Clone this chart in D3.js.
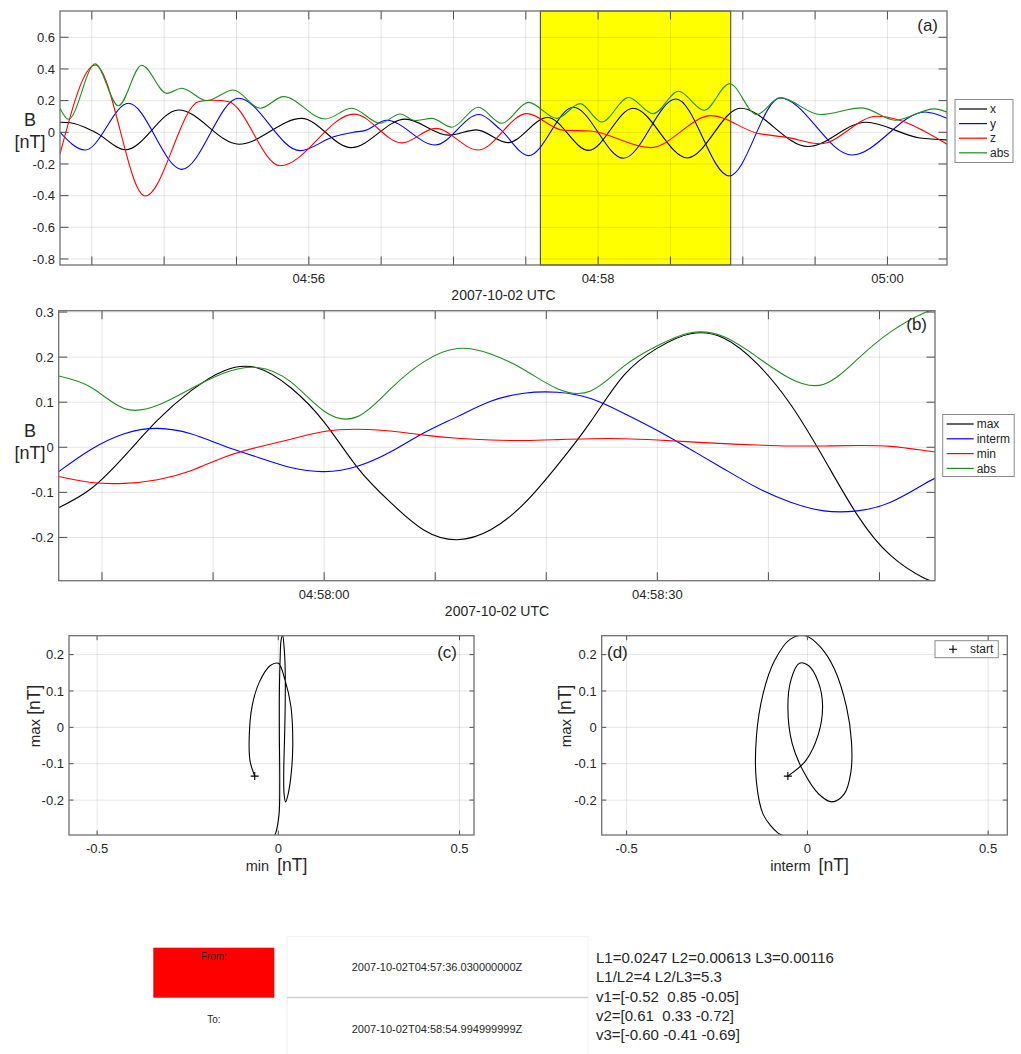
<!DOCTYPE html>
<html>
<head>
<meta charset="utf-8">
<script src="https://cdn.jsdelivr.net/npm/d3@7"></script>
<style>
  body { margin: 0; background: #fff; }
  svg { display: block; font-family: "Liberation Sans", Arial, sans-serif; }
  text { fill: #262626; white-space: pre; }
</style>
</head>
<body>
<svg id="chart" width="1021" height="1054"></svg>
<script>
// ---- panel (a): field components, seconds after 2007-10-02 04:54:00 UTC
// (times picked at turning points of each trace)
const aXTime = [16.8, 21, 31.4, 44, 66, 91, 117, 137.5, 160, 178, 189.5, 202.5, 219, 236, 254.5, 277, 299, 327, 351, 373.5, 384.7];
const aXVal  = [0.063, 0.06, 0.0, -0.11, 0.141, -0.075, 0.088, -0.097, 0.083, -0.018, 0.015, -0.065, 0.093, -0.114, 0.152, -0.162, 0.152, -0.09, 0.063, -0.036, -0.048];

const aYTime = [16.8, 27.2, 45.2, 67.3, 90.8, 116.4, 130, 138.5, 143.5, 152.3, 172.4, 190.6, 199.3, 211.1, 229.7, 250.5, 272.3, 294.4, 315.5, 345.3, 375.6, 384.7];
const aYVal  = [0.0, -0.112, 0.183, -0.234, 0.215, -0.116, -0.03, 0.0, 0.012, 0.076, -0.08, 0.112, 0.02, -0.147, 0.158, -0.164, 0.21, -0.275, 0.217, -0.143, 0.128, 0.088];

const aZTime = [16.8, 31.4, 52.1, 74.5, 80.4, 86.5, 108.1, 138.8, 158.6, 172.6, 190.2, 210.4, 225.5, 236.7, 261.6, 286.9, 306.0, 318.4, 332.1, 355.6, 384.7];
const aZVal  = [-0.137, 0.425, -0.402, 0.195, 0.202, 0.195, -0.211, 0.115, -0.067, 0.025, -0.112, 0.118, 0.013, 0.008, -0.097, 0.105, -0.006, -0.032, -0.072, 0.101, -0.075];

const aAbsTime = [16.8, 20.3, 31.4, 41.0, 50.7, 61.1, 67.3, 77.7, 88.7, 99.8, 109.5, 126.8, 137.8, 149.6, 157.9, 164.1, 171.0, 179.3, 190.3, 200.0, 211.1, 222.9, 232.5, 241.5, 252.6, 262.9, 273.3, 284.0, 294.5, 305.8, 315.5, 332.1, 349.4, 363.2, 379.4, 384.7];
const aAbsVal  = [0.152, 0.082, 0.432, 0.168, 0.423, 0.246, 0.278, 0.2, 0.267, 0.152, 0.225, 0.084, 0.152, 0.057, 0.116, 0.074, 0.088, 0.032, 0.158, 0.057, 0.189, 0.088, 0.181, 0.065, 0.22, 0.118, 0.259, 0.139, 0.307, 0.112, 0.219, 0.112, 0.154, 0.076, 0.148, 0.127];

const aYLim = [-0.838, 0.766];
const aYTicks = [-0.8, -0.6, -0.4, -0.2, 0, 0.2, 0.4, 0.6];

// selected interval (yellow)
const intervalFrom = "2007-10-02T04:57:36.030000000Z";
const intervalTo   = "2007-10-02T04:58:54.994999999Z";

// ---- panel (b): minimum variance frame, seconds after 04:58:00 UTC
const bTime   = [-23.9, -21, -18, -15, -12, -9, -6, -3, 0, 3, 6, 9, 12, 15, 18, 21, 24, 27, 30, 33, 36, 39, 42, 45, 48, 51, 54, 55];
const bMax    = [-0.134, -0.092, -0.020, 0.060, 0.125, 0.170, 0.176, 0.132, 0.056, -0.045, -0.123, -0.184, -0.205, -0.183, -0.125, -0.040, 0.057, 0.160, 0.220, 0.252, 0.242, 0.185, 0.095, -0.025, -0.150, -0.240, -0.290, -0.296];
const bInterm = [-0.054, -0.005, 0.030, 0.042, 0.030, 0.003, -0.022, -0.045, -0.054, -0.042, -0.010, 0.032, 0.068, 0.102, 0.120, 0.122, 0.108, 0.075, 0.037, -0.005, -0.048, -0.090, -0.122, -0.141, -0.141, -0.122, -0.082, -0.069];
const bMin    = [-0.065, -0.078, -0.080, -0.072, -0.052, -0.022, 0.0, 0.018, 0.035, 0.040, 0.036, 0.027, 0.020, 0.016, 0.015, 0.017, 0.019, 0.019, 0.016, 0.012, 0.008, 0.005, 0.003, 0.003, 0.004, 0.002, -0.007, -0.010];
const bAbs    = [0.158, 0.133, 0.086, 0.093, 0.130, 0.165, 0.177, 0.145, 0.080, 0.068, 0.130, 0.190, 0.219, 0.207, 0.172, 0.130, 0.125, 0.180, 0.225, 0.254, 0.245, 0.200, 0.152, 0.140, 0.195, 0.256, 0.298, 0.303];
const bYTicks = [-0.2, -0.1, 0, 0.1, 0.2, 0.3];

// ---- hodograms (c), (d)
const cXLim = [-0.5775, 0.540];
const dXLim = [-0.569, 0.553];
const hXTicks = [-0.5, 0, 0.5];
const hYTicks = [-0.2, -0.1, 0, 0.1, 0.2];

// ---- eigen analysis text
const infoLines = [
  "L1=0.0247 L2=0.00613 L3=0.00116",
  "L1/L2=4 L2/L3=5.3",
  "v1=[-0.52  0.85 -0.05]",
  "v2=[0.61  0.33 -0.72]",
  "v3=[-0.60 -0.41 -0.69]"
];

const GREEN = "#1f8f1f";
const svg = d3.select("#chart");
const baseA = Date.UTC(2007, 9, 2, 4, 54, 0);
const baseB = Date.UTC(2007, 9, 2, 4, 58, 0);
const toDate = (base, s) => new Date(base + s * 1000);
const fmtTick = v => Math.abs(v) < 1e-9 ? "0" : String(+v.toFixed(2));
const parseIso = s => new Date(s.slice(0, 23) + "Z");

function clipFor(id, xs, ys) {
  svg.append("clipPath").attr("id", id).append("rect")
    .attr("x", xs.range()[0]).attr("y", ys.range()[1])
    .attr("width", xs.range()[1] - xs.range()[0])
    .attr("height", ys.range()[0] - ys.range()[1]);
  return "url(#" + id + ")";
}

function drawGrid(xs, ys, xTicks, yTicks) {
  const [xl, xr] = xs.range(), [yb, yt] = ys.range();
  const g = svg.append("g").attr("stroke", "#000").attr("stroke-opacity", 0.1).attr("stroke-width", 1);
  g.selectAll(".gx").data(xTicks).join("line")
    .attr("x1", d => xs(d)).attr("x2", d => xs(d)).attr("y1", yt).attr("y2", yb);
  g.selectAll(".gy").data(yTicks).join("line")
    .attr("x1", xl).attr("x2", xr).attr("y1", d => ys(d)).attr("y2", d => ys(d));
}

function drawBox(xs, ys, xTicks, yTicks, xFmt, yFmt, tick) {
  const [xl, xr] = xs.range(), [yb, yt] = ys.range();
  const g = svg.append("g");
  const tk = g.append("g").attr("stroke", "#4d4d4d").attr("stroke-width", 1);
  xTicks.forEach(d => {
    tk.append("line").attr("x1", xs(d)).attr("x2", xs(d)).attr("y1", yb).attr("y2", yb - tick);
    tk.append("line").attr("x1", xs(d)).attr("x2", xs(d)).attr("y1", yt).attr("y2", yt + tick);
  });
  yTicks.forEach(d => {
    tk.append("line").attr("x1", xl).attr("x2", xl + tick).attr("y1", ys(d)).attr("y2", ys(d));
    tk.append("line").attr("x1", xr).attr("x2", xr - tick).attr("y1", ys(d)).attr("y2", ys(d));
  });
  g.append("rect").attr("x", xl).attr("y", yt).attr("width", xr - xl).attr("height", yb - yt)
    .attr("fill", "none").attr("stroke", "#707070").attr("stroke-width", 1.3);
  g.selectAll(".xl").data(xTicks.filter(d => xFmt(d) !== "")).join("text")
    .attr("x", d => xs(d)).attr("y", yb + 18).attr("text-anchor", "middle")
    .attr("font-size", 13).text(d => xFmt(d));
  g.selectAll(".yl").data(yTicks).join("text")
    .attr("x", xl - 5).attr("y", d => ys(d)).attr("dy", "0.35em").attr("text-anchor", "end")
    .attr("font-size", 13).text(d => yFmt(d));
}

function legend(x, y, w, h, rows, rowH, lineW) {
  const g = svg.append("g");
  g.append("rect").attr("x", x).attr("y", y).attr("width", w).attr("height", h)
    .attr("fill", "#fff").attr("stroke", "#8a8a8a").attr("stroke-width", 1);
  rows.forEach((r, i) => {
    const cy = y + 9.5 + i * rowH;
    g.append("line").attr("x1", x + 4).attr("x2", x + 4 + lineW).attr("y1", cy).attr("y2", cy)
      .attr("stroke", r.color).attr("stroke-width", 1.2);
    g.append("text").attr("x", x + lineW + 7).attr("y", cy).attr("dy", "0.35em")
      .attr("font-size", 12).attr("fill", "#000").text(r.name);
  });
}

function unitLabel(x, y1, y2) {
  svg.append("text").attr("x", x).attr("y", y1).attr("text-anchor", "middle").attr("font-size", 18).text("B");
  svg.append("text").attr("x", x).attr("y", y2).attr("text-anchor", "middle").attr("font-size", 18).text("[nT]");
}

// =============== panel (a) ===============
const aSeries = [
  { name: "x",   color: "#000",    t: aXTime,   v: aXVal },
  { name: "y",   color: "#0000ff", t: aYTime,   v: aYVal },
  { name: "z",   color: "#ff0000", t: aZTime,   v: aZVal },
  { name: "abs", color: GREEN,     t: aAbsTime, v: aAbsVal }
];
const aExt = d3.extent(aSeries.flatMap(s => s.t));
const ax = d3.scaleUtc().domain(aExt.map(s => toDate(baseA, s))).range([60, 947]);
const ay = d3.scaleLinear().domain(aYLim).range([265, 11]);
const aXTicks = ax.ticks(d3.utcSecond.every(30));
const aFmt = d => (d.getUTCSeconds() === 0 && d.getUTCMinutes() % 2 === 0) ? d3.utcFormat("%H:%M")(d) : "";

svg.append("rect")
  .attr("x", ax(parseIso(intervalFrom))).attr("y", 11)
  .attr("width", ax(parseIso(intervalTo)) - ax(parseIso(intervalFrom))).attr("height", 254)
  .attr("fill", "#ffff00").attr("stroke", "#3a3a3a").attr("stroke-width", 1);
drawGrid(ax, ay, aXTicks, aYTicks);
const aClip = clipFor("clipA", ax, ay);
const aLine = d3.line().curve(d3.curveMonotoneX);
aSeries.forEach(s => {
  svg.append("path").attr("clip-path", aClip)
    .attr("d", aLine(s.t.map((t, i) => [ax(toDate(baseA, t)), ay(s.v[i])])))
    .attr("fill", "none").attr("stroke", s.color).attr("stroke-width", 1.1);
});
drawBox(ax, ay, aXTicks, aYTicks, aFmt, fmtTick, 8.5);
legend(955, 99.5, 58, 63, aSeries, 14.6, 28);
unitLabel(30, 126, 148);
svg.append("text").attr("x", 503.5).attr("y", 300).attr("text-anchor", "middle").attr("font-size", 14).text("2007-10-02 UTC");
svg.append("text").attr("x", 938).attr("y", 31).attr("text-anchor", "end").attr("font-size", 17).text("(a)");

// =============== panel (b) ===============
const bSeries = [
  { name: "max",    color: "#000",    v: bMax },
  { name: "interm", color: "#0000ff", v: bInterm },
  { name: "min",    color: "#ff0000", v: bMin },
  { name: "abs",    color: GREEN,     v: bAbs }
];
const bx = d3.scaleUtc().domain(d3.extent(bTime).map(s => toDate(baseB, s))).range([58.7, 935]);
const by = d3.scaleLinear().domain([d3.min(bMax), d3.max(bAbs)]).range([580.7, 310.7]);
const bXTicks = bx.ticks(d3.utcSecond.every(10));
const bFmt = d => d.getUTCSeconds() % 30 === 0 ? d3.utcFormat("%H:%M:%S")(d) : "";
drawGrid(bx, by, bXTicks, bYTicks);
const bClip = clipFor("clipB", bx, by);
const bLine = d3.line().curve(d3.curveNatural);
bSeries.forEach(s => {
  svg.append("path").attr("clip-path", bClip)
    .attr("d", bLine(bTime.map((t, i) => [bx(toDate(baseB, t)), by(s.v[i])])))
    .attr("fill", "none").attr("stroke", s.color).attr("stroke-width", 1.1);
});
drawBox(bx, by, bXTicks, bYTicks, bFmt, fmtTick, 8.5);
legend(942.7, 414.5, 71.5, 62, bSeries, 14.8, 27);
unitLabel(30, 437, 459);
svg.append("text").attr("x", 497).attr("y", 616).attr("text-anchor", "middle").attr("font-size", 14).text("2007-10-02 UTC");
svg.append("text").attr("x", 927).attr("y", 330).attr("text-anchor", "end").attr("font-size", 17).text("(b)");

// =============== hodograms ===============
function hodogram(id, xLim, xRange, xVals, xName, tag, tagX, tagAnchor, ylabX) {
  const hx = d3.scaleLinear().domain(xLim).range(xRange);
  const hy = d3.scaleLinear().domain(d3.extent(bMax)).range([835, 635.7]);
  drawGrid(hx, hy, hXTicks, hYTicks);
  const pts = xVals.map((v, i) => [hx(v), hy(bMax[i])]);
  svg.append("path").attr("clip-path", clipFor(id, hx, hy))
    .attr("d", d3.line().curve(d3.curveCatmullRom.alpha(0.5))(pts))
    .attr("fill", "none").attr("stroke", "#000").attr("stroke-width", 1.1);
  const [sx, sy] = pts[0];
  svg.append("path").attr("d", `M${sx - 4},${sy}H${sx + 4}M${sx},${sy - 4}V${sy + 4}`)
    .attr("stroke", "#000").attr("stroke-width", 1.1);
  drawBox(hx, hy, hXTicks, hYTicks, fmtTick, fmtTick, 4.5);
  const xl = svg.append("text").attr("x", (xRange[0] + xRange[1]) / 2 + 5).attr("y", 871).attr("text-anchor", "middle");
  xl.append("tspan").attr("font-size", 14.5).text(xName + "  ");
  xl.append("tspan").attr("font-size", 17.5).text("[nT]");
  const yl = svg.append("text").attr("transform", `translate(${ylabX},716) rotate(-90)`).attr("text-anchor", "middle");
  yl.append("tspan").attr("font-size", 15).text("max ");
  yl.append("tspan").attr("font-size", 17.5).text("[nT]");
  svg.append("text").attr("x", tagX).attr("y", 658).attr("text-anchor", tagAnchor).attr("font-size", 17).text(tag);
  return hx;
}
hodogram("clipC", cXLim, [69, 474], bMin, "min", "(c)", 457, "end", 40);
hodogram("clipD", dXLim, [601.7, 1007.3], bInterm, "interm", "(d)", 607, "start", 571);

// legend of (d)
const dLeg = svg.append("g");
dLeg.append("rect").attr("x", 935).attr("y", 640.7).attr("width", 63.3).attr("height", 17)
  .attr("fill", "#fff").attr("stroke", "#8a8a8a");
dLeg.append("path").attr("d", "M949,649.2H957M953,645.2V653.2").attr("stroke", "#000").attr("stroke-width", 1.1);
dLeg.append("text").attr("x", 970).attr("y", 649.2).attr("dy", "0.35em").attr("font-size", 12).attr("fill", "#000").text("start");

// =============== interval widget + eigen text ===============
svg.append("rect").attr("x", 153.3).attr("y", 947.7).attr("width", 121).attr("height", 50).attr("fill", "#ff0000");
svg.append("text").attr("x", 213.8).attr("y", 960).attr("text-anchor", "middle").attr("font-size", 10).attr("fill", "#3a0000").text("From:");
svg.append("text").attr("x", 213.8).attr("y", 1023).attr("text-anchor", "middle").attr("font-size", 10).attr("fill", "#222").text("To:");
svg.append("rect").attr("x", 287).attr("y", 936.7).attr("width", 301).attr("height", 130)
  .attr("fill", "#fff").attr("stroke", "#f0f0f0");
svg.append("line").attr("x1", 287).attr("x2", 588).attr("y1", 997.5).attr("y2", 997.5).attr("stroke", "#cfcfcf").attr("stroke-width", 1.5);
svg.append("text").attr("x", 437).attr("y", 971).attr("text-anchor", "middle").attr("font-size", 11).attr("fill", "#222").text(intervalFrom);
svg.append("text").attr("x", 437).attr("y", 1033).attr("text-anchor", "middle").attr("font-size", 11).attr("fill", "#222").text(intervalTo);
svg.selectAll(".info").data(infoLines).join("text")
  .attr("x", 596).attr("y", (d, i) => 963 + i * 19.3)
  .attr("font-size", 15).attr("fill", "#111").text(d => d);
</script>
</body>
</html>
